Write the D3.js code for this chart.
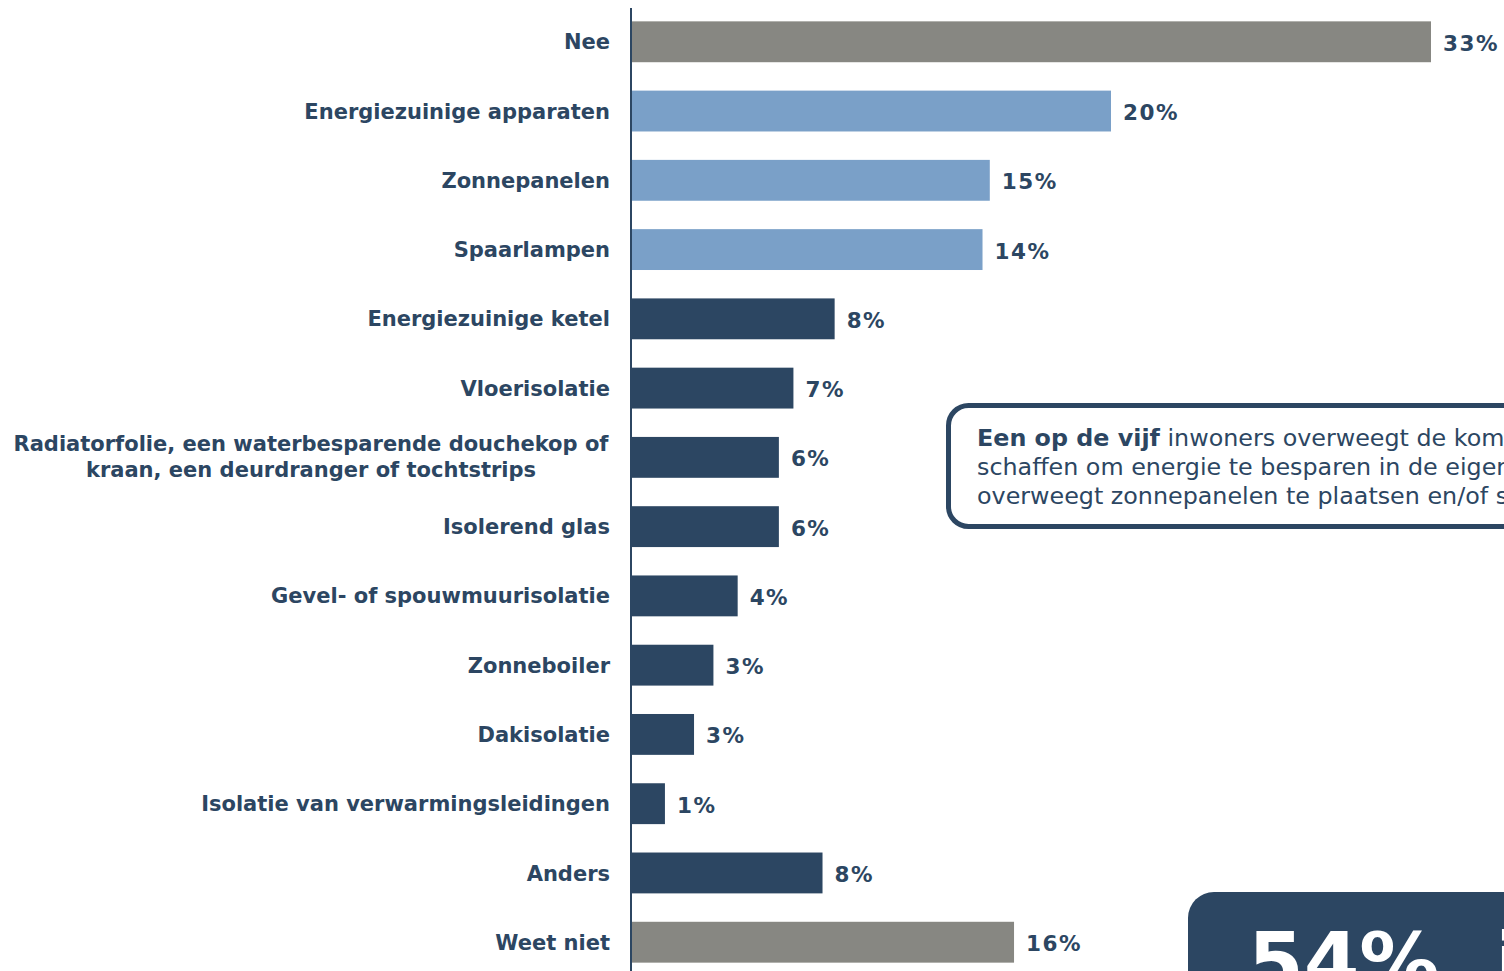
<!DOCTYPE html>
<html><head><meta charset="utf-8">
<script src="https://cdn.jsdelivr.net/npm/d3@7"></script>
<style>
html,body{margin:0;padding:0;background:#fff;overflow:hidden;}
svg{display:block;font-family:"DejaVu Sans",Verdana,sans-serif;}
</style></head>
<body>
<svg id="chart" width="1504" height="971"></svg>
<script>
const categories = ["Nee","Energiezuinige apparaten","Zonnepanelen","Spaarlampen","Energiezuinige ketel","Vloerisolatie","Radiatorfolie, een waterbesparende douchekop of|kraan, een deurdranger of tochtstrips","Isolerend glas","Gevel- of spouwmuurisolatie","Zonneboiler","Dakisolatie","Isolatie van verwarmingsleidingen","Anders","Weet niet"];
const values = [33, 19.8, 14.8, 14.5, 8.4, 6.7, 6.1, 6.1, 4.4, 3.4, 2.6, 1.4, 7.9, 15.8];
const valueLabels = ["33%","20%","15%","14%","8%","7%","6%","6%","4%","3%","3%","1%","8%","16%"];
const groups = ["neutral","top","top","top","rest","rest","rest","rest","rest","rest","rest","rest","rest","neutral"];

const navy = "#2c4662";
const colors = {neutral:"#878782", top:"#7aa0c8", rest:"#2c4662"};

const svg = d3.select("#chart");
const x0 = 631;
const x = d3.scaleLinear().domain([0, 33]).range([x0, 1431]);
const y = d3.scaleBand().domain(categories).range([7.5, 976.5]).paddingInner(0.41).paddingOuter(0.2);

svg.selectAll("rect.bar").data(categories).join("rect")
  .attr("class","bar")
  .attr("x", x(0))
  .attr("y", d => y(d))
  .attr("width", (d,i) => x(values[i]) - x(0))
  .attr("height", y.bandwidth())
  .attr("fill", (d,i) => colors[groups[i]]);

svg.append("line").attr("x1", x0).attr("x2", x0).attr("y1", 8).attr("y2", 971)
  .attr("stroke", navy).attr("stroke-width", 2);

svg.selectAll("text.val").data(categories).join("text")
  .attr("class","val")
  .attr("x", (d,i) => x(values[i]) + 12)
  .attr("y", d => y(d) + y.bandwidth()/2)
  .attr("dy","0.42em")
  .attr("fill", navy).attr("font-weight","bold").attr("font-size", 21.5)
  .attr("letter-spacing", 1.5)
  .text((d,i) => valueLabels[i]);

const lab = svg.selectAll("text.cat").data(categories).join("text")
  .attr("class","cat")
  .attr("fill", navy).attr("font-weight","bold").attr("font-size", 21)
  .attr("y", d => y(d) + y.bandwidth()/2);
lab.each(function(d){
  const parts = d.split("|");
  const t = d3.select(this);
  if (parts.length === 1) {
    t.attr("x", 610).attr("text-anchor","end").attr("dy","0.36em").text(d);
  } else {
    t.attr("text-anchor","middle");
    parts.forEach((p,k) => {
      t.append("tspan").attr("x", 311).attr("dy", k === 0 ? "-0.28em" : "1.22em").text(p);
    });
  }
});

// Callout box
svg.append("rect").attr("x", 948.5).attr("y", 405.5).attr("width", 700).attr("height", 121)
  .attr("rx", 20).attr("fill","#fff").attr("stroke", navy).attr("stroke-width", 5);
const call = svg.append("text").attr("fill", navy).attr("font-size", 23.8);
const l1 = call.append("tspan").attr("x", 977).attr("y", 446);
l1.append("tspan").attr("font-weight","bold").text("Een op de vijf");
l1.append("tspan").text(" inwoners overweegt de komende tijd iets aan te");
call.append("tspan").attr("x", 977).attr("y", 475).text("schaffen om energie te besparen in de eigen woning en");
call.append("tspan").attr("x", 977).attr("y", 504).text("overweegt zonnepanelen te plaatsen en/of spaarlampen.");

// Bottom box
svg.append("rect").attr("x", 1188).attr("y", 892).attr("width", 500).attr("height", 200)
  .attr("rx", 26).attr("fill", navy);
svg.append("text").attr("x", 1248).attr("y", 990).attr("fill","#fff")
  .attr("font-weight","bold").attr("font-size", 80).attr("xml:space","preserve").text("54%  is");
</script>
</body></html>
